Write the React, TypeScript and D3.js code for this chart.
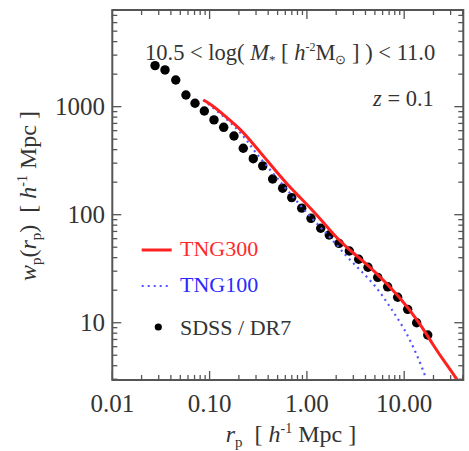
import React from "react";
import * as d3 from "d3";

// SDSS / DR7 data points
const sdssRp = [0.0275, 0.0348, 0.0449, 0.0571, 0.0708, 0.0883, 0.1109, 0.1396, 0.1782, 0.2218, 0.2812, 0.3516, 0.4446, 0.5636, 0.6982, 0.885, 1.102, 1.387, 1.698, 2.138, 2.729, 3.404, 4.246, 5.346, 6.761, 8.57, 10.86, 13.43, 17.46];
const sdssWp = [2399, 2188, 1766, 1283, 1075, 912, 754, 644, 535, 412, 330, 283, 214, 176, 144, 115, 92.6, 74.9, 64.9, 54.3, 46.1, 38.7, 32.6, 26.3, 21.5, 17.2, 13.3, 10.0, 7.7];

// TNG300 curve
const tng300Rp = [0.0861, 0.1052, 0.1279, 0.16, 0.2028, 0.26, 0.3273, 0.4121, 0.52, 0.6592, 0.8356, 1.365, 2.023, 3.0, 4.446, 9.057, 14.52, 19.91, 27.35, 34.67, 39.26];
const tng300Wp = [1153, 1038, 899, 753, 631, 492, 383, 299, 233, 182, 147, 92.7, 60.4, 44.0, 33.0, 17.4, 9.86, 6.17, 4.06, 3.05, 2.38];

// TNG100 curve
const tng100Rp = [0.0861, 0.16, 0.2291, 0.2812, 0.4345, 0.6699, 1.074, 1.726, 2.466, 3.516, 5.212, 7.096, 9.795, 12.91, 16.37, 18.41];
const tng100Wp = [1153, 738, 525, 397, 250, 158, 95.7, 62.5, 42.4, 30.8, 21.5, 14.1, 9.18, 5.58, 3.28, 2.38];

const xTickValues = [0.01, 0.1, 1, 10];
const xTickLabels = ["0.01", "0.10", "1.00", "10.00"];
const yTickValues = [10, 100, 1000];
const yTickLabels = ["10", "100", "1000"];

const W = 469;
const H = 451;
const L = 112.3, R = 463.3, T = 10, B = 380;
const INK = "#333";
const AXIS = "#555";

const serif = { fontFamily: "Liberation Serif" };

export default function App() {
  const x = d3.scaleLog().domain([0.01, 40.5]).range([L, R]);
  const y = d3.scaleLog().domain([2.95, 7850]).range([B, T]);

  const line = d3
    .line<[number, number]>()
    .x((d) => x(d[0]))
    .y((d) => y(d[1]))
    .curve(d3.curveBasis);

  const red = line(tng300Rp.map((r, i) => [r, tng300Wp[i]]) as [number, number][]) || "";
  const blue = line(tng100Rp.map((r, i) => [r, tng100Wp[i]]) as [number, number][]) || "";

  const xMinor: number[] = [];
  for (let e = -2; e <= 1; e++) {
    for (let m = 2; m <= 9; m++) {
      const v = m * Math.pow(10, e);
      if (v < 40.5) xMinor.push(v);
    }
  }
  const yMinor: number[] = [];
  for (let e = 0; e <= 3; e++) {
    for (let m = 2; m <= 9; m++) {
      const v = m * Math.pow(10, e);
      if (v > 2.95 && v < 7850) yMinor.push(v);
    }
  }
  const MAJ = 9, MIN = 5;

  return (
    <svg width={W} height={H} style={{ display: "block", position: "absolute", left: 0, top: 0, background: "#fff" }}>
      <defs>
        <clipPath id="plotclip">
          <rect x={L} y={T} width={R - L} height={B - T} />
        </clipPath>
      </defs>
      <rect x={0} y={0} width={W} height={H} fill="#fff" />

      <g stroke={AXIS} strokeWidth={1.3}>
        {xTickValues.map((v) => (
          <g key={"xm" + v}>
            <line x1={x(v)} x2={x(v)} y1={B} y2={B - MAJ} />
            <line x1={x(v)} x2={x(v)} y1={T} y2={T + MAJ} />
          </g>
        ))}
        {xMinor.map((v) => (
          <g key={"xn" + v}>
            <line x1={x(v)} x2={x(v)} y1={B} y2={B - MIN} />
            <line x1={x(v)} x2={x(v)} y1={T} y2={T + MIN} />
          </g>
        ))}
        {yTickValues.map((v) => (
          <g key={"ym" + v}>
            <line x1={L} x2={L + MAJ} y1={y(v)} y2={y(v)} />
            <line x1={R} x2={R - MAJ} y1={y(v)} y2={y(v)} />
          </g>
        ))}
        {yMinor.map((v) => (
          <g key={"yn" + v}>
            <line x1={L} x2={L + MIN} y1={y(v)} y2={y(v)} />
            <line x1={R} x2={R - MIN} y1={y(v)} y2={y(v)} />
          </g>
        ))}
      </g>

      <g clipPath="url(#plotclip)">
        {sdssRp.map((r, i) => (
          <circle key={"p" + i} cx={x(r)} cy={y(sdssWp[i])} r={4.7} fill="#000" />
        ))}
        <path d={blue} fill="none" stroke="#5555ff" strokeWidth={2.2} strokeDasharray="2 4" />
        <path d={red} fill="none" stroke="#ff2020" strokeWidth={3} />
      </g>

      <rect x={L} y={T} width={R - L} height={B - T} fill="none" stroke={AXIS} strokeWidth={2} />

      {xTickValues.map((v, i) => (
        <text key={"xl" + v} x={x(v)} y={412} textAnchor="middle" fontSize={25} fill={INK} style={serif}>
          {xTickLabels[i]}
        </text>
      ))}
      {yTickValues.map((v, i) => (
        <text key={"yl" + v} x={105} y={y(v) + 8.5} textAnchor="end" fontSize={25} fill={INK} style={serif}>
          {yTickLabels[i]}
        </text>
      ))}

      <text x={291} y={442} textAnchor="middle" style={serif} fontSize={24} fill={INK}>
        <tspan fontStyle="italic">r</tspan>
        <tspan fontSize={15} dy={5}>p</tspan>
        <tspan dy={-5}>{"\u00a0\u00a0[\u00a0"}</tspan>
        <tspan fontStyle="italic">h</tspan>
        <tspan fontSize={14} dy={-9}>-1</tspan>
        <tspan dy={9}>{"\u00a0Mpc ]"}</tspan>
      </text>
      <text
        transform={`translate(36, 196) rotate(-90)`}
        textAnchor="middle"
        style={serif}
        fontSize={24}
        fill={INK}
      >
        <tspan fontStyle="italic">w</tspan>
        <tspan fontSize={15} dy={5}>p</tspan>
        <tspan dy={-5}>(</tspan>
        <tspan fontStyle="italic">r</tspan>
        <tspan fontSize={15} dy={5}>p</tspan>
        <tspan dy={-5}>{")\u00a0\u00a0[\u00a0"}</tspan>
        <tspan fontStyle="italic">h</tspan>
        <tspan fontSize={14} dy={-9}>-1</tspan>
        <tspan dy={9}>{"\u00a0Mpc ]"}</tspan>
      </text>

      <text x={145} y={60} style={serif} fontSize={22.5} fill={INK}>
        <tspan>{"10.5 < log( "}</tspan>
        <tspan fontStyle="italic">M</tspan>
        <tspan fontSize={13} dy={4}>*</tspan>
        <tspan dy={-4}>{" [ "}</tspan>
        <tspan fontStyle="italic">h</tspan>
        <tspan fontSize={12} dy={-9}>-2</tspan>
        <tspan dy={9}>M</tspan>
        <tspan fontSize={13} dy={4}>{"\u2299"}</tspan>
        <tspan dy={-4}>{" ] ) < 11.0"}</tspan>
      </text>
      <text x={373} y={106} style={serif} fontSize={22.5} fill={INK}>
        <tspan fontStyle="italic">z</tspan>
        <tspan>{" = 0.1"}</tspan>
      </text>

      <line x1={141.7} x2={171.7} y1={250} y2={250} stroke="#ff2020" strokeWidth={3} />
      <text x={180} y={256} style={serif} fontSize={22} fill="#ff2a2a">TNG300</text>
      <line x1={141.7} x2={168} y1={286} y2={286} stroke="#5555ff" strokeWidth={2.2} strokeDasharray="2 4" />
      <text x={180} y={292} style={serif} fontSize={22} fill="#2a2aff">TNG100</text>
      <circle cx={158.3} cy={327} r={3.6} fill="#000" />
      <text x={180} y={335} style={serif} fontSize={22} fill={INK}>SDSS / DR7</text>
    </svg>
  );
}
